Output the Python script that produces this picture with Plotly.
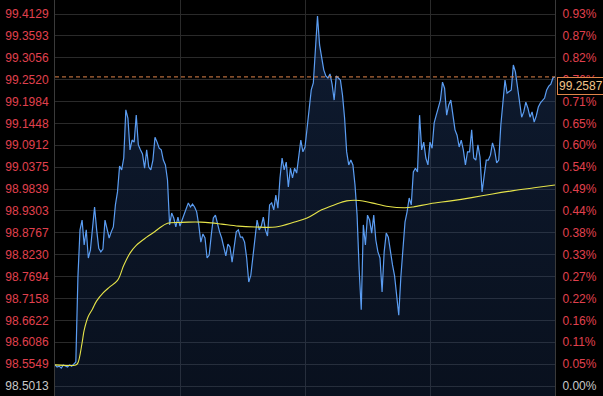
import plotly.graph_objects as go

# ---- data ----
price = [
    98.553, 98.548, 98.550, 98.545, 98.553, 98.550, 98.548, 98.553, 98.550, 98.555,
    98.560, 98.768, 98.884, 98.908, 98.847, 98.884, 98.815, 98.835, 98.896, 98.940,
    98.884, 98.839, 98.830, 98.837, 98.908, 98.888, 98.864, 98.879, 98.891, 98.945,
    98.977, 99.040, 99.031, 99.060, 99.178, 99.158, 99.080, 99.104, 99.099, 99.165,
    99.092, 99.080, 99.070, 99.035, 99.080, 99.038, 99.031, 99.055, 99.111, 99.099,
    99.084, 99.080, 99.055, 99.043, 99.006, 98.896, 98.925, 98.913, 98.891, 98.915,
    98.893, 98.908, 98.923, 98.933, 98.950, 98.940, 98.947, 98.940, 98.928, 98.896,
    98.854, 98.874, 98.864, 98.815, 98.822, 98.871, 98.913, 98.920, 98.896, 98.879,
    98.864, 98.839, 98.820, 98.849, 98.842, 98.805, 98.847, 98.879, 98.884, 98.866,
    98.866, 98.854, 98.815, 98.756, 98.773, 98.817, 98.859, 98.908, 98.884, 98.893,
    98.915, 98.884, 98.869, 98.945, 98.950, 98.933, 98.969, 98.937, 99.011, 99.060,
    99.031, 99.050, 98.989, 99.035, 99.011, 99.035, 99.023, 99.060, 99.104, 99.075,
    99.087, 99.133, 99.187, 99.227, 99.244, 99.344, 99.408, 99.337, 99.300, 99.276,
    99.261, 99.256, 99.266, 99.241, 99.202, 99.261, 99.256, 99.251, 99.214, 99.158,
    99.075, 99.043, 99.055, 99.043, 98.994, 98.920, 98.786, 98.688, 98.896, 98.847,
    98.920, 98.908, 98.876, 98.920, 98.859, 98.830, 98.815, 98.732, 98.830, 98.876,
    98.866, 98.825, 98.798, 98.771, 98.729, 98.675, 98.768, 98.847, 98.903, 98.928,
    98.962, 98.945, 99.026, 99.035, 99.026, 99.165, 99.080, 99.099, 99.060, 99.043,
    99.099, 99.084, 99.146, 99.165, 99.182, 99.202, 99.246, 99.231, 99.165, 99.190,
    99.202, 99.158, 99.129, 99.116, 99.087, 99.104, 99.080, 99.043, 99.075, 99.075,
    99.129, 99.060, 99.055, 99.092, 99.062, 98.977, 99.011, 99.055, 99.055, 99.067,
    99.097, 99.080, 99.048, 99.055, 99.141, 99.197, 99.251, 99.219, 99.222, 99.227,
    99.288, 99.271, 99.234, 99.192, 99.160, 99.173, 99.197, 99.182, 99.160, 99.173,
    99.148, 99.163, 99.185, 99.195, 99.202, 99.207, 99.227, 99.236, 99.241, 99.256,
    99.2587,
]
minutes = list(range(len(price)))

avg_minutes = [0, 10, 11, 13, 14, 16, 18, 20, 23, 26, 30, 33, 36, 39, 44, 48, 50, 54,
               60, 64, 70, 75, 80, 88, 96, 106, 115, 121, 128, 134, 140, 146, 152,
               160, 168, 172, 180, 190, 200, 210, 220, 230, 240]
avg_price = [98.553, 98.553, 98.558, 98.607, 98.638, 98.672, 98.690, 98.710, 98.729,
             98.743, 98.760, 98.797, 98.827, 98.846, 98.866, 98.880, 98.888, 98.900,
             98.902, 98.903, 98.903, 98.901, 98.898, 98.893, 98.891, 98.891, 98.903,
             98.913, 98.933, 98.945, 98.955, 98.956, 98.950, 98.941, 98.938, 98.940,
             98.948, 98.955, 98.963, 98.972, 98.980, 98.987, 98.994]

left_ticks = [99.4129, 99.3593, 99.3056, 99.2520, 99.1984, 99.1448, 99.0912, 99.0375,
              98.9839, 98.9303, 98.8767, 98.8230, 98.7694, 98.7158, 98.6622, 98.6086,
              98.5549, 98.5013]
right_labels = ["0.93%", "0.87%", "0.82%", "0.76%", "0.71%", "0.65%", "0.60%", "0.54%",
                "0.49%", "0.44%", "0.38%", "0.33%", "0.27%", "0.22%", "0.16%", "0.11%",
                "0.05%", "0.00%"]
last_price = 99.2587

# ---- styling ----
RED = "#e0404e"
GREY_TXT = "#c8c8c8"
y_lo, y_hi = 98.4768, 99.4472

def colored(txt, base):
    c = GREY_TXT if base else RED
    return f'<span style="color:{c}">{txt}</span>'

left_text = [colored(f"{v:.4f}", v == left_ticks[-1]) for v in left_ticks]
right_text = [colored(t, t == "0.00%") for t in right_labels]

fig = go.Figure()
fig.add_trace(go.Scatter(
    x=minutes, y=price, mode="lines",
    line=dict(color="#5b9df2", width=1.2),
    fill="tozeroy",
    fillgradient=dict(type="vertical", start=y_lo, stop=99.41,
                      colorscale=[[0, "rgba(30,55,100,0.30)"], [1, "rgba(40,75,135,0.36)"]]),
    hoverinfo="skip", showlegend=False,
))
fig.add_trace(go.Scatter(
    x=avg_minutes, y=avg_price, mode="lines", line_shape="spline",
    line=dict(color="#e6e44a", width=1.1),
    hoverinfo="skip", showlegend=False,
))
# invisible trace on right axis to activate it
fig.add_trace(go.Scatter(x=[0], y=[last_price], yaxis="y2", mode="markers",
                         marker=dict(opacity=0), hoverinfo="skip", showlegend=False))

fig.add_shape(type="line", xref="paper", x0=0, x1=1, yref="y", y0=last_price, y1=last_price,
              line=dict(color="#e0854a", width=1, dash="4px,3px"))
fig.add_annotation(xref="paper", x=1, yref="y", y=last_price, xanchor="left", yanchor="top",
                   xshift=2, text="99.2587", showarrow=False,
                   font=dict(color="#f2c48a", size=12, family="Liberation Sans, Arial"),
                   bgcolor="#000000", bordercolor="#e0854a", borderwidth=1, borderpad=1)

grid = "#2a2a2a"
fig.update_layout(
    width=603, height=396,
    margin=dict(l=55, r=48, t=0, b=0),
    paper_bgcolor="#000000", plot_bgcolor="#000000",
    font=dict(family="Liberation Sans, Arial", size=12),
    xaxis=dict(range=[0, 240], tickvals=[60, 120, 180], showticklabels=False,
               showgrid=True, gridcolor=grid, gridwidth=1, zeroline=False, showline=False,
               fixedrange=True),
    yaxis=dict(range=[y_lo, y_hi], tickvals=left_ticks, ticktext=left_text,
               showgrid=True, gridcolor=grid, zeroline=False, showline=True,
               linecolor="#3a3a3a", linewidth=1, ticks="", ticklabelstandoff=3),
    yaxis2=dict(range=[y_lo, y_hi], overlaying="y", side="right", tickvals=left_ticks,
                ticktext=right_text, showgrid=False, zeroline=False, showline=True,
                linecolor="#3a3a3a", linewidth=1, ticks="", ticklabelstandoff=4),
)

fig.write_html("out.html")
